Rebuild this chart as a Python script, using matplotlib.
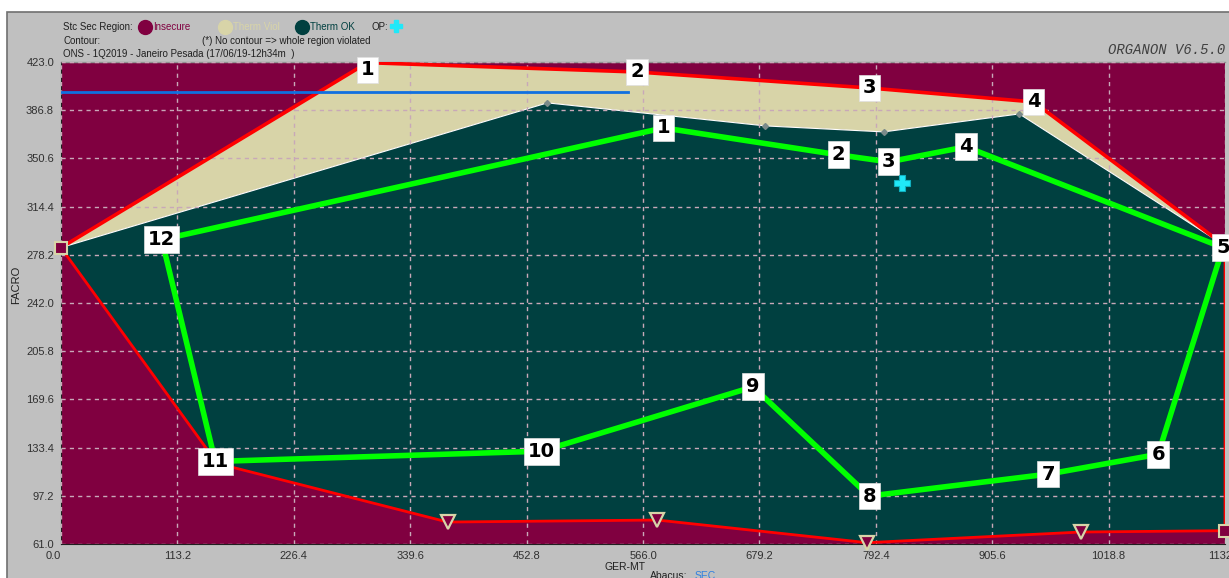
import numpy as np
import matplotlib.pyplot as plt
from matplotlib.transforms import Affine2D
from matplotlib.lines import Line2D
from matplotlib.patches import Rectangle

# --- dados (GER-MT x FACRO) ---
# fronteira de seguranca (vermelha) superior
sec_up_x = [0.0, 298.0, 560.0, 786.0, 946.0, 1132.0]
sec_up_y = [283.6, 422.5, 415.5, 403.5, 393.0, 285.0]
# fronteira de seguranca inferior
sec_lo_x = [0.0, 152.0, 376.0, 580.0, 784.0, 992.0, 1132.0]
sec_lo_y = [283.6, 121.5, 77.5, 79.0, 62.0, 70.0, 71.0]
# limite termico
therm_x = [0.0, 473.0, 685.0, 800.0, 932.0, 1132.0]
therm_y = [283.6, 392.3, 375.0, 370.5, 384.0, 285.0]
# caminho do ponto de operacao (verde), pontos 1..12
path_x = [586, 756, 805, 880, 1130, 1067, 960, 786, 673, 467, 150, 98]
path_y = [373.5, 353.3, 348.0, 359.3, 283.6, 128.4, 113.5, 97.0, 179.0, 130.7, 123.0, 289.6]
path_lbl = [str(i) for i in range(1, 13)]
sec_lbl = ['1', '2', '3', '4']
# linha azul e OP
blue_x = [0.0, 551.0]
blue_y = [400.5, 400.5]
op_x, op_y = 817.6, 332.3

xticks = [0.0, 113.2, 226.4, 339.6, 452.8, 566.0, 679.2, 792.4, 905.6, 1018.8, 1132.0]
yticks = [61.0, 97.2, 133.4, 169.6, 205.8, 242.0, 278.2, 314.4, 350.6, 386.8, 423.0]

c_ins = '#800040'
c_viol = '#d8d4a8'
c_ok = '#004040'
c_grid = '#c8a8b8'

W, H = 1229, 578
fig = plt.figure(figsize=(W / 100, H / 100), dpi=100, facecolor='white')
px = Affine2D().scale(1 / W, -1 / H).translate(0, 1) + fig.transFigure
fig.patches.append(Rectangle((7, 12), W, H, transform=px, fc='#c0c0c0', ec='#707070', lw=1.2, zorder=-5))

ax = fig.add_axes([61 / W, 1 - 544 / H, (1225 - 61) / W, (544 - 62) / H])
ax.set_facecolor(c_ins)
ax.set_xlim(0, 1132)
ax.set_ylim(61, 423)

# regioes
ax.fill(sec_up_x + therm_x[::-1], sec_up_y + therm_y[::-1], color=c_viol, lw=0, zorder=1)
ok_x = therm_x + [1132.0] + sec_lo_x[::-1]
ok_y = therm_y + [sec_lo_y[-1]] + sec_lo_y[::-1]
ax.fill(ok_x, ok_y, color=c_ok, lw=0, zorder=1)
ax.plot(therm_x, therm_y, color='white', lw=0.8, zorder=2)
ax.plot(therm_x[1:-1], therm_y[1:-1], 'D', color='#7a8a8a', ms=3, zorder=3)

# grade
ax.set_xticks(xticks)
ax.set_yticks(yticks)
ax.grid(True, color=c_grid, ls=(0, (3, 3)), lw=1, zorder=2.5)
ax.set_axisbelow(False)

# fronteiras vermelhas
ax.plot(sec_up_x, sec_up_y, color='#ff0000', lw=2.6, zorder=4)
ax.plot(sec_lo_x + [1132.0, 1132.0], sec_lo_y + [71.0, 285.0], color='#ff0000', lw=2, zorder=4)
ax.plot(sec_lo_x[2:6], sec_lo_y[2:6], 'v', ms=10, mfc=c_ins, mec=c_viol, mew=1.6, zorder=6, clip_on=False)
ax.plot([sec_lo_x[0], sec_lo_x[-1]], [sec_lo_y[0], sec_lo_y[-1]], 's', ms=8, mfc=c_ins, mec=c_viol,
        mew=1.5, zorder=6, clip_on=False)

ax.plot(blue_x, blue_y, color='#1070e0', lw=2, zorder=4)

# caminho verde
ax.plot(path_x + path_x[:1], path_y + path_y[:1], color='#00ff00', lw=4, zorder=5,
        solid_joinstyle='round')

box = dict(boxstyle='square,pad=0.2', fc='white', ec='#e0e0e0', lw=0.5)
for x, y, t in zip(path_x, path_y, path_lbl):
    ax.text(x, y, t, ha='center', va='center', fontsize=14, fontweight='bold',
            family='DejaVu Sans', bbox=box, zorder=7, clip_on=False)
for x, y, t in zip(sec_up_x[1:5], sec_up_y[1:5], sec_lbl):
    ax.text(x, min(y, 417), t, ha='center', va='center', fontsize=14, fontweight='bold',
            family='DejaVu Sans', bbox=box, zorder=7, clip_on=False)

ax.plot([op_x], [op_y], 'P', ms=12, mfc='#20e8f8', mec='#10b0c0', mew=0.8, zorder=8)

# eixos
for s in ['top', 'right']:
    ax.spines[s].set_visible(False)
ax.spines['left'].set_color('#202020')
ax.spines['bottom'].set_color('#202020')
ax.tick_params(length=0, labelsize=8, colors='#303030', pad=5)
ax.set_xticklabels(['%.1f' % v for v in xticks], family='Liberation Sans')
ax.set_yticklabels(['%.1f' % v for v in yticks], family='Liberation Sans')
ax.get_xticklabels()[0].set_ha('right')
ax.plot([0, 1132], [423, 423], color='#909090', lw=1, clip_on=False, zorder=0)

# textos do cabecalho
f = dict(transform=px, family='Liberation Sans', fontsize=7, va='center', color='#202020')
fig.text(63, 27, 'Stc Sec Region:', **f)
for cx, lab, col in [(145, 'Insecure', c_ins), (225, 'Therm Viol', c_viol), (302, 'Therm OK', c_ok)]:
    fig.add_artist(Line2D([cx], [27], marker='o', ms=10, color=col, transform=px))
    fig.text(cx + 8, 27, lab, **{**f, 'color': col})
fig.text(372, 27, 'OP:', **f)
fig.add_artist(Line2D([396], [26], marker='P', ms=9, mfc='#20e8f8', mec='#20e8f8', transform=px))
fig.text(63, 41, 'Contour:', **f)
fig.text(202, 41, '(*) No contour => whole region violated', **f)
fig.text(63, 54, 'ONS - 1Q2019 - Janeiro Pesada (17/06/19-12h34m  )', **f)
fig.text(1225, 50, 'ORGANON V6.5.0', transform=px, family='Liberation Mono', style='italic',
         fontsize=10, ha='right', va='center', color='#404040')
fig.text(16, 285, 'FACRO', transform=px, family='Liberation Sans', fontsize=8, rotation=90,
         ha='center', va='center', color='#202020')
fig.text(625, 567, 'GER-MT', transform=px, family='Liberation Sans', fontsize=7.5,
         ha='center', va='center', color='#202020')
fig.text(650, 571, 'Abacus:', transform=px, family='Liberation Sans', fontsize=7.5, va='top', color='#202020')
fig.text(695, 571, 'SEC', transform=px, family='Liberation Sans', fontsize=7.5, va='top', color='#3080e0')

fig.savefig('out.png', dpi=100, facecolor=fig.get_facecolor())
